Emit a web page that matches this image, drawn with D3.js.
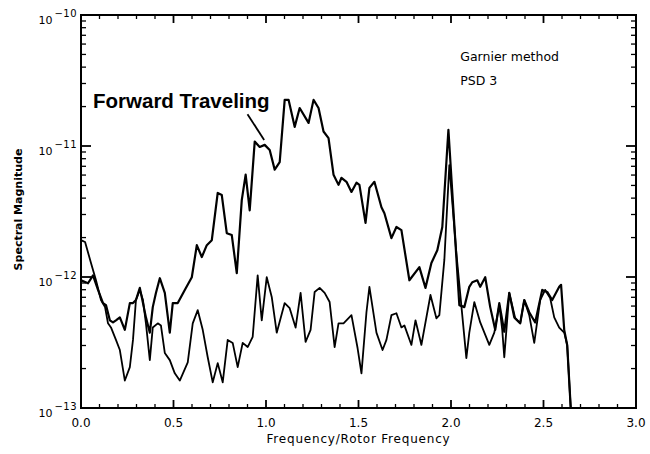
<!DOCTYPE html>
<html>
<head>
<meta charset="utf-8">
<script src="https://cdn.jsdelivr.net/npm/d3@7"></script>
<style>
  html, body { margin: 0; padding: 0; background: #fff; }
  svg { display: block; }
</style>
</head>
<body>
<svg id="chart" width="650" height="454"></svg>
<script>
// ---------- data (frequency / rotor frequency, spectral magnitude) ----------
const forwardTraveling = [
  [0.000,0.944e-12],[0.038,0.896e-12],[0.065,1.03e-12],[0.092,0.797e-12],[0.119,0.632e-12],
  [0.135,0.610e-12],[0.156,0.467e-12],[0.173,0.450e-12],[0.189,0.467e-12],[0.210,0.492e-12],
  [0.237,0.395e-12],[0.264,0.632e-12],[0.281,0.632e-12],[0.297,0.667e-12],[0.318,0.826e-12],
  [0.351,0.492e-12],[0.372,0.376e-12],[0.388,0.589e-12],[0.405,0.756e-12],[0.426,0.979e-12],
  [0.453,0.756e-12],[0.480,0.376e-12],[0.496,0.632e-12],[0.523,0.632e-12],[0.561,0.797e-12],
  [0.599,0.996e-12],[0.626,1.75e-12],[0.653,1.42e-12],[0.680,1.75e-12],[0.707,1.91e-12],
  [0.739,4.38e-12],[0.761,4.22e-12],[0.788,2.16e-12],[0.815,2.09e-12],[0.842,1.07e-12],
  [0.869,3.86e-12],[0.890,6.04e-12],[0.912,3.23e-12],[0.939,10.8e-12],[0.966,9.83e-12],
  [0.993,10.2e-12],[1.020,9.31e-12],[1.047,6.6e-12],[1.074,7.52e-12],[1.101,22.5e-12],
  [1.122,22.5e-12],[1.155,14.0e-12],[1.182,19.5e-12],[1.230,15.0e-12],[1.257,22.5e-12],
  [1.284,19.5e-12],[1.311,12.9e-12],[1.338,11.5e-12],[1.365,6.04e-12],[1.392,5.05e-12],
  [1.408,5.72e-12],[1.435,5.33e-12],[1.462,4.46e-12],[1.489,5.24e-12],[1.505,5.05e-12],
  [1.538,2.59e-12],[1.559,4.79e-12],[1.586,5.33e-12],[1.624,3.41e-12],[1.640,3.07e-12],
  [1.678,1.98e-12],[1.705,2.41e-12],[1.732,2.28e-12],[1.775,0.944e-12],[1.829,1.19e-12],
  [1.862,0.826e-12],[1.894,1.28e-12],[1.926,1.60e-12],[1.953,2.41e-12],[1.986,13.3e-12],
  [2.045,0.610e-12],[2.072,0.589e-12],[2.099,0.841e-12],[2.115,0.912e-12],[2.142,0.944e-12],
  [2.158,0.841e-12],[2.185,0.996e-12],[2.212,0.589e-12],[2.239,0.395e-12],[2.261,0.632e-12],
  [2.288,0.382e-12],[2.315,0.756e-12],[2.342,0.492e-12],[2.374,0.443e-12],[2.396,0.667e-12],
  [2.423,0.538e-12],[2.455,0.450e-12],[2.493,0.797e-12],[2.520,0.769e-12],[2.547,0.667e-12],
  [2.585,0.841e-12],[2.595,0.872e-12],[2.612,0.395e-12],[2.628,0.303e-12],[2.649,0.09e-12]
];

const secondSpectrum = [
  [0.000,1.91e-12],[0.022,1.85e-12],[0.054,1.28e-12],[0.081,0.944e-12],[0.108,0.667e-12],
  [0.130,0.589e-12],[0.146,0.443e-12],[0.162,0.412e-12],[0.189,0.331e-12],[0.210,0.277e-12],
  [0.237,0.162e-12],[0.264,0.205e-12],[0.281,0.331e-12],[0.297,0.667e-12],[0.318,0.797e-12],
  [0.335,0.667e-12],[0.351,0.443e-12],[0.372,0.232e-12],[0.388,0.412e-12],[0.415,0.443e-12],
  [0.432,0.427e-12],[0.453,0.263e-12],[0.480,0.232e-12],[0.507,0.184e-12],[0.534,0.162e-12],
  [0.577,0.223e-12],[0.604,0.443e-12],[0.631,0.558e-12],[0.658,0.395e-12],[0.685,0.244e-12],
  [0.712,0.157e-12],[0.739,0.220e-12],[0.766,0.157e-12],[0.793,0.331e-12],[0.820,0.314e-12],
  [0.847,0.205e-12],[0.874,0.314e-12],[0.901,0.292e-12],[0.928,0.349e-12],[0.955,1.03e-12],
  [0.977,0.467e-12],[1.004,0.996e-12],[1.031,0.704e-12],[1.058,0.376e-12],[1.101,0.632e-12],
  [1.128,0.578e-12],[1.160,0.411e-12],[1.187,0.756e-12],[1.214,0.320e-12],[1.241,0.395e-12],
  [1.263,0.769e-12],[1.290,0.826e-12],[1.317,0.756e-12],[1.344,0.644e-12],[1.371,0.292e-12],
  [1.392,0.443e-12],[1.419,0.443e-12],[1.462,0.511e-12],[1.495,0.287e-12],[1.516,0.184e-12],
  [1.543,0.538e-12],[1.559,0.841e-12],[1.597,0.376e-12],[1.630,0.277e-12],[1.651,0.331e-12],
  [1.678,0.511e-12],[1.705,0.529e-12],[1.732,0.412e-12],[1.748,0.427e-12],[1.786,0.303e-12],
  [1.808,0.467e-12],[1.840,0.303e-12],[1.889,0.729e-12],[1.921,0.484e-12],[1.937,0.511e-12],
  [1.964,1.35e-12],[1.991,7.14e-12],[2.029,1.52e-12],[2.083,0.240e-12],[2.099,0.376e-12],
  [2.126,0.644e-12],[2.158,0.450e-12],[2.207,0.303e-12],[2.234,0.376e-12],[2.261,0.610e-12],
  [2.277,0.395e-12],[2.288,0.244e-12],[2.315,0.756e-12],[2.347,0.484e-12],[2.374,0.443e-12],
  [2.396,0.667e-12],[2.423,0.511e-12],[2.450,0.314e-12],[2.482,0.667e-12],[2.509,0.797e-12],
  [2.536,0.691e-12],[2.558,0.492e-12],[2.585,0.411e-12],[2.612,0.376e-12],[2.628,0.303e-12],
  [2.649,0.09e-12]
];

const xTickValues = [0, 0.5, 1.0, 1.5, 2.0, 2.5, 3.0];
const xTickLabels = ["0.0", "0.5", "1.0", "1.5", "2.0", "2.5", "3.0"];
const yDecades = [-10, -11, -12, -13];
const xDomain = [0, 3];
const yDomain = [1e-13, 1e-10];

const xTitle = "Frequency/Rotor Frequency";
const yTitle = "Spectral Magnitude";
const noteLines = ["Garnier method", "PSD 3"];
const calloutText = "Forward Traveling";
const calloutFrom = [0.90, 1.75e-11];
const calloutTo = [0.99, 1.11e-11];

// ---------- layout ----------
const svg = d3.select("#chart");
const L = 81, R = 636, T = 15, B = 408;
const x = d3.scaleLinear().domain(xDomain).range([L, R]);
const y = d3.scaleLog().domain(yDomain).range([B, T]);

svg.append("defs").append("clipPath").attr("id", "plotclip")
  .append("rect").attr("x", L).attr("y", T).attr("width", R - L).attr("height", B - T);

// lines
const line = d3.line().x(d => x(d[0])).y(d => y(d[1]));
const g = svg.append("g").attr("clip-path", "url(#plotclip)");
g.append("path").datum(secondSpectrum).attr("d", line)
  .attr("fill", "none").attr("stroke", "#000").attr("stroke-width", 1.8)
  .attr("stroke-linejoin", "round");
g.append("path").datum(forwardTraveling).attr("d", line)
  .attr("fill", "none").attr("stroke", "#000").attr("stroke-width", 2.2)
  .attr("stroke-linejoin", "round");

// frame
svg.append("rect").attr("x", L).attr("y", T).attr("width", R - L).attr("height", B - T)
  .attr("fill", "none").attr("stroke", "#000").attr("stroke-width", 2);

// ticks (inward on all four sides)
const tickG = svg.append("g").attr("stroke", "#000");
const minorX = d3.range(0, 31).map(i => i / 10);
minorX.forEach(v => {
  const major = Math.abs(v * 2 - Math.round(v * 2)) < 1e-6;
  const len = major ? 8 : 4;
  tickG.append("line").attr("x1", x(v)).attr("x2", x(v)).attr("y1", B).attr("y2", B - len)
    .attr("stroke-width", major ? 1.8 : 1.3);
  tickG.append("line").attr("x1", x(v)).attr("x2", x(v)).attr("y1", T).attr("y2", T + len)
    .attr("stroke-width", major ? 1.8 : 1.3);
});
const yTicks = y.ticks();
yTicks.forEach(v => {
  const mant = v / Math.pow(10, Math.floor(Math.log10(v) + 1e-9));
  const major = Math.abs(mant - 1) < 1e-6;
  const len = major ? 10 : 5;
  tickG.append("line").attr("x1", L).attr("x2", L + len).attr("y1", y(v)).attr("y2", y(v))
    .attr("stroke-width", major ? 1.8 : 1.3);
  tickG.append("line").attr("x1", R).attr("x2", R - len).attr("y1", y(v)).attr("y2", y(v))
    .attr("stroke-width", major ? 1.8 : 1.3);
});

// x tick labels
const font = "DejaVu Sans, Verdana, sans-serif";
svg.append("g").selectAll("text").data(xTickValues).join("text")
  .attr("x", d => x(d)).attr("y", B + 19)
  .attr("text-anchor", "middle").attr("font-family", font).attr("font-size", 12)
  .text((d, i) => xTickLabels[i]);

// y tick labels 10^n
yDecades.forEach(e => {
  const t = svg.append("text").attr("x", L - 4).attr("y", y(Math.pow(10, e)) + 9)
    .attr("text-anchor", "end").attr("font-family", font);
  t.append("tspan").attr("font-size", 11).text("10");
  t.append("tspan").attr("font-size", 10).attr("dy", -7).attr("dx", 2)
    .attr("letter-spacing", 0.5).text("\u2212" + Math.abs(e));
});

// axis titles
svg.append("text").attr("x", (L + R) / 2).attr("y", 443)
  .attr("text-anchor", "middle").attr("font-family", font).attr("font-size", 12)
  .attr("letter-spacing", 0.8).text(xTitle);
svg.append("text").attr("transform", `translate(22, ${(T + B) / 2 - 2}) rotate(-90)`)
  .attr("text-anchor", "middle").attr("font-family", font).attr("font-size", 11)
  .attr("font-weight", "bold").text(yTitle);

// notes
noteLines.forEach((s, i) => {
  svg.append("text").attr("x", x(2.05)).attr("y", 61 + i * 24)
    .attr("font-family", font).attr("font-size", 12.5).text(s);
});

// callout
svg.append("text").attr("x", x(0.065)).attr("y", y(1.95e-11))
  .attr("font-family", "Liberation Sans, Arial, sans-serif").attr("font-weight", "bold")
  .attr("font-size", 20.5).text(calloutText);
svg.append("line")
  .attr("x1", x(calloutFrom[0])).attr("y1", y(calloutFrom[1]))
  .attr("x2", x(calloutTo[0])).attr("y2", y(calloutTo[1]))
  .attr("stroke", "#000").attr("stroke-width", 1.8);
</script>
</body>
</html>
